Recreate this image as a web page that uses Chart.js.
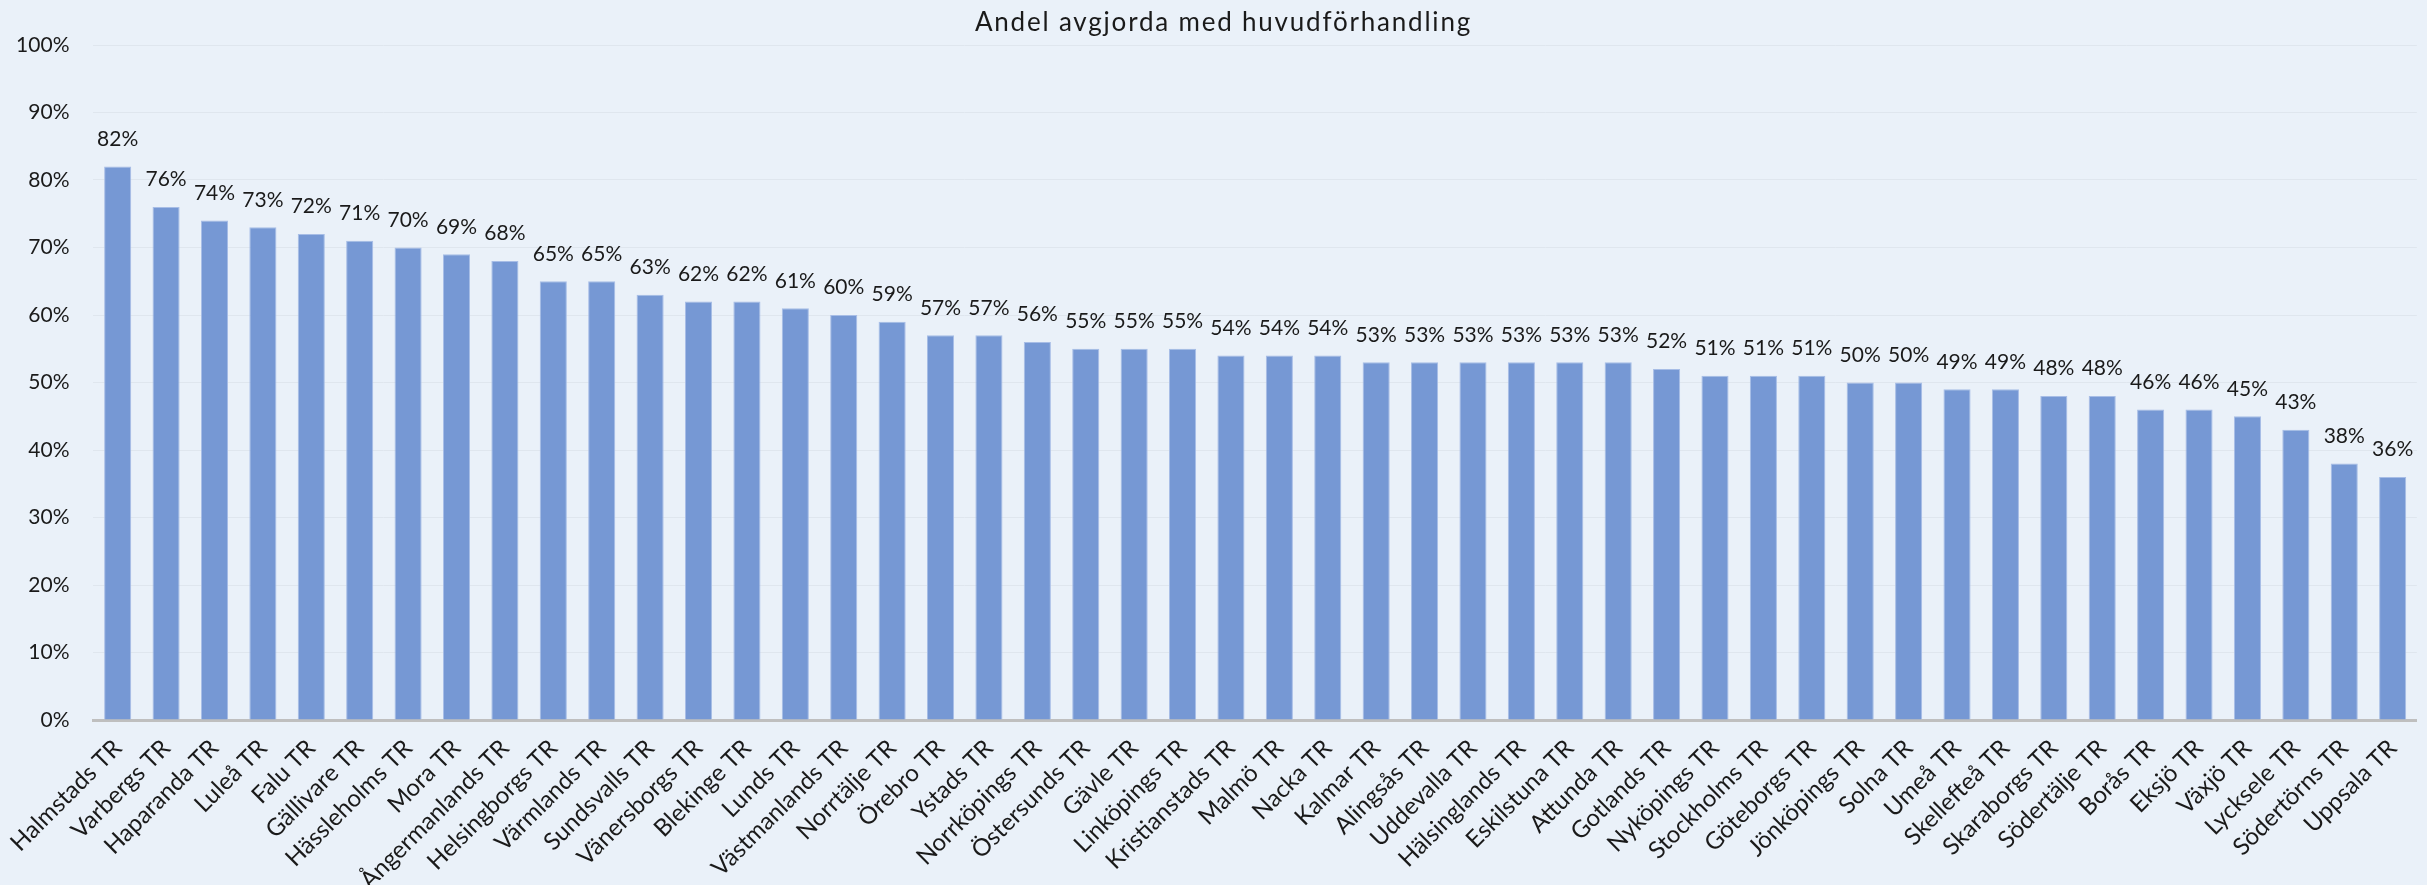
<!DOCTYPE html>
<html>
<head>
<meta charset="utf-8">
<script src="https://cdn.jsdelivr.net/npm/chart.js@4/dist/chart.umd.min.js"></script>
<style>
  html, body { margin: 0; padding: 0; background: #eaf1f9; }
  #wrap { width: 2427px; height: 885px; }
</style>
</head>
<body>
<div id="wrap"><canvas id="courts"></canvas></div>
<script>
const courts = [
  "Halmstads TR", "Varbergs TR", "Haparanda TR", "Luleå TR", "Falu TR", "Gällivare TR",
  "Hässleholms TR", "Mora TR", "Ångermanlands TR", "Helsingborgs TR", "Värmlands TR",
  "Sundsvalls TR", "Vänersborgs TR", "Blekinge TR", "Lunds TR", "Västmanlands TR",
  "Norrtälje TR", "Örebro TR", "Ystads TR", "Norrköpings TR", "Östersunds TR", "Gävle TR",
  "Linköpings TR", "Kristianstads TR", "Malmö TR", "Nacka TR", "Kalmar TR", "Alingsås TR",
  "Uddevalla TR", "Hälsinglands TR", "Eskilstuna TR", "Attunda TR", "Gotlands TR",
  "Nyköpings TR", "Stockholms TR", "Göteborgs TR", "Jönköpings TR", "Solna TR", "Umeå TR",
  "Skellefteå TR", "Skaraborgs TR", "Södertälje TR", "Borås TR", "Eksjö TR", "Växjö TR",
  "Lycksele TR", "Södertörns TR", "Uppsala TR"
];

const share = [
  82, 76, 74, 73, 72, 71, 70, 69, 68, 65, 65, 63, 62, 62, 61, 60, 59, 57, 57, 56, 55, 55,
  55, 54, 54, 54, 53, 53, 53, 53, 53, 53, 52, 51, 51, 51, 50, 50, 49, 49, 48, 48, 46, 46,
  45, 43, 38, 36
];

const titleText = "Andel avgjorda med huvudförhandling";

const FONT = "Lato, 'Open Sans', sans-serif";

// title drawn by hand so it can get the wide letter spacing of the original
const spacedTitle = {
  id: "spacedTitle",
  afterDraw(chart) {
    const ctx = chart.ctx;
    ctx.save();
    ctx.font = "26px " + FONT;
    ctx.letterSpacing = "1.8px";
    ctx.fillStyle = "#1a1a1a";
    ctx.textAlign = "center";
    ctx.textBaseline = "middle";
    ctx.fillText(titleText, chart.width / 2 + 10, 23);
    ctx.restore();
  }
};

// draws "82%" etc above each bar, using the bar element positions
const barLabels = {
  id: "barLabels",
  afterDatasetsDraw(chart) {
    const ctx = chart.ctx;
    const meta = chart.getDatasetMeta(0);
    ctx.save();
    ctx.font = "21px " + FONT;
    ctx.fillStyle = "#1a1a1a";
    ctx.textAlign = "center";
    ctx.textBaseline = "bottom";
    meta.data.forEach((bar, i) => {
      ctx.fillText(share[i] + "%", bar.x, bar.y - 17);
    });
    ctx.restore();
  }
};

const ctx = document.getElementById("courts").getContext("2d");
new Chart(ctx, {
  type: "bar",
  data: {
    labels: courts,
    datasets: [
      {
        data: share,
        backgroundColor: "#7698d4",
        borderColor: "#a7bde6",
        borderWidth: 1,
        barPercentage: 0.56,
        categoryPercentage: 1,
      },
    ],
  },
  options: {
    responsive: true,
    maintainAspectRatio: false,
    animation: false,
    layout: { padding: { left: 0, right: 0, top: 45, bottom: 0 } },
    plugins: {
      legend: { display: false },
      tooltip: { enabled: false },
      title: { display: false },
    },
    scales: {
      x: {
        afterFit: (scale) => { scale.height = 165; },
        grid: { display: false, drawTicks: false },
        border: { color: "#bfbfbf", width: 3 },
        ticks: {
          color: "#1a1a1a",
          font: { family: FONT, size: 24 },
          maxRotation: 45,
          minRotation: 45,
          autoSkip: false,
          padding: 14,
        },
      },
      y: {
        min: 0,
        max: 100,
        afterFit: (scale) => { scale.width = 92; },
        grid: { color: "#dfe6ee", drawTicks: false },
        border: { display: false },
        ticks: {
          stepSize: 10,
          color: "#1a1a1a",
          font: { family: FONT, size: 21 },
          padding: 24,
          callback: (v) => v + "%",
        },
      },
    },
  },
  plugins: [barLabels, spacedTitle],
});
</script>
</body>
</html>
